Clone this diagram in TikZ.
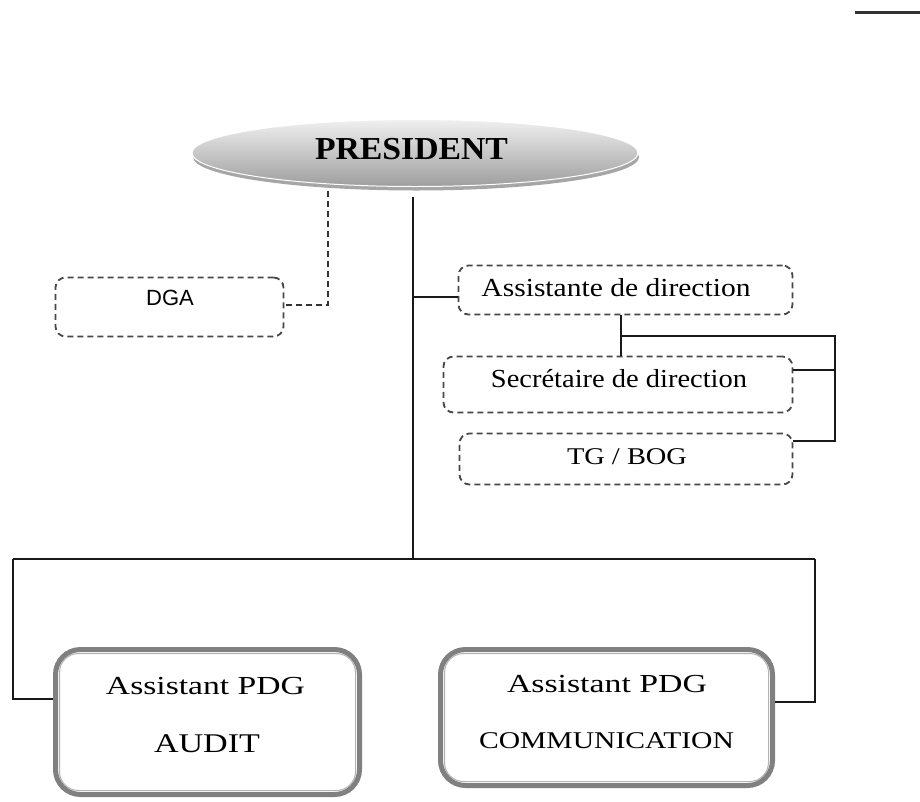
\documentclass[tikz,border=0pt]{standalone}
\usepackage{fontspec}
\setmainfont{Liberation Serif}
\newfontfamily\dgasans{Liberation Sans}
\usepackage{graphicx}
\usetikzlibrary{shapes.geometric}

% text stretched to a given width (pt) at a given size, height kept
\newcommand{\fitted}[3]{\resizebox{#1pt}{\height}{\fontsize{#2}{#2}\selectfont #3}}

\begin{document}
\begin{tikzpicture}[x=1pt,y=-1pt,
  dashbox/.style={draw=black!72, line width=1.8pt, dash pattern=on 6pt off 4pt,
    rounded corners=10pt, inner sep=0pt},
  framebox/.style={draw=black!50, line width=5pt, rounded corners=25pt,
    fill=white, inner sep=0pt},
  innerframe/.style={draw=black!30, line width=1pt, rounded corners=19pt},
  txt/.style={anchor=base, inner sep=0pt, text=black},
  link/.style={line width=2.2pt, black!90},
  thinlink/.style={line width=1.8pt, black!90},
  trunk/.style={line width=2.8pt, black!90},
  dashlink/.style={line width=1.8pt, black!80, dash pattern=on 6pt off 4pt},
]
\useasboundingbox (0,0) rectangle (920,801);

% short rule in the top right corner
\coordinate (markA) at (855,12);
\coordinate (markB) at (920,12);
\draw[line width=3pt, black!80] (markA) -- (markB);

% president ellipse with its shadow
\node[ellipse, fill=black!35, minimum width=446pt, minimum height=67pt, inner sep=0pt]
  (presshadow) at (416,157) {};
\node[ellipse, draw=white, line width=1pt, top color=black!6, bottom color=black!38,
  minimum width=446pt, minimum height=67pt, inner sep=0pt] (pres) at (415,153) {};
\node[txt] (tpres) at (411.5,159) {\fitted{193}{32}{\bfseries PRESIDENT}};

% dashed staff boxes
\node[dashbox, minimum width=228pt, minimum height=59pt] (dga) at (169.5,307) {};
\node[txt] (tdga) at (170,305) {\dgasans\fontsize{22}{22}\selectfont DGA};

\node[dashbox, minimum width=334pt, minimum height=49pt] (asst) at (625.5,290) {};
\node[txt] (tasst) at (616,296) {\fitted{269}{26}{Assistante de direction}};

\node[dashbox, minimum width=349pt, minimum height=56pt] (sec) at (618,384.5) {};
\node[txt] (tsec) at (619,387) {\fitted{256}{26}{Secrétaire de direction}};

\node[dashbox, minimum width=333pt, minimum height=51pt] (tg) at (626,459) {};
\node[txt] (ttg) at (627,464) {\fitted{120}{24}{TG / BOG}};

% double framed boxes
\node[framebox, minimum width=304pt, minimum height=145pt] (audit) at (207.5,722) {};
\draw[innerframe] ([shift={(6.5pt,6.5pt)}]audit.south west)
  rectangle ([shift={(-6.5pt,-6.5pt)}]audit.north east);
\node[txt] (ta1) at (205.5,694) {\fitted{199}{26}{Assistant PDG}};
\node[txt] (ta2) at (207,752) {\fitted{106}{27}{AUDIT}};

\node[framebox, minimum width=332pt, minimum height=136pt] (comm) at (606.5,717.5) {};
\draw[innerframe] ([shift={(6.5pt,6.5pt)}]comm.south west)
  rectangle ([shift={(-6.5pt,-6.5pt)}]comm.north east);
\node[txt] (tc1) at (607,692) {\fitted{200}{26}{Assistant PDG}};
\node[txt] (tc2) at (606.5,748) {\fitted{255}{24}{COMMUNICATION}};

% main trunk and bottom bar
\coordinate (trunktop) at (413,197);
\coordinate (trunkbot) at (413,559);
\coordinate (barL) at (13,559);
\coordinate (barR) at (815,559);
\draw[trunk] (trunktop) -- (trunkbot);
\draw[link] (barL) -- (barR);
\draw[link] (barL) |- (audit.west |- 0,699);
\draw[link] (barR) |- (comm.east |- 0,702);

% trunk to the assistant
\coordinate (asstjoin) at (413,297);
\draw[thinlink] (asstjoin) -- (asst.west |- 0,297);

% dashed link to DGA
\coordinate (dgatop) at (328,191);
\coordinate (dgaturn) at (328,305);
\draw[dashlink] (dgatop) -- (dgaturn) -- (dga.east |- 0,305);

% assistant to secretary and TG / BOG
\coordinate (brk) at (621,336);
\coordinate (railtop) at (835,336);
\coordinate (railsec) at (835,370);
\coordinate (railbot) at (835,441);
\draw[thinlink] (asst.south -| brk) -- (sec.north -| brk);
\draw[thinlink] (brk) -- (railtop) -- (railbot) -- (tg.east |- railbot);
\draw[thinlink] (railsec) -- (sec.east |- railsec);
\end{tikzpicture}
\end{document}
